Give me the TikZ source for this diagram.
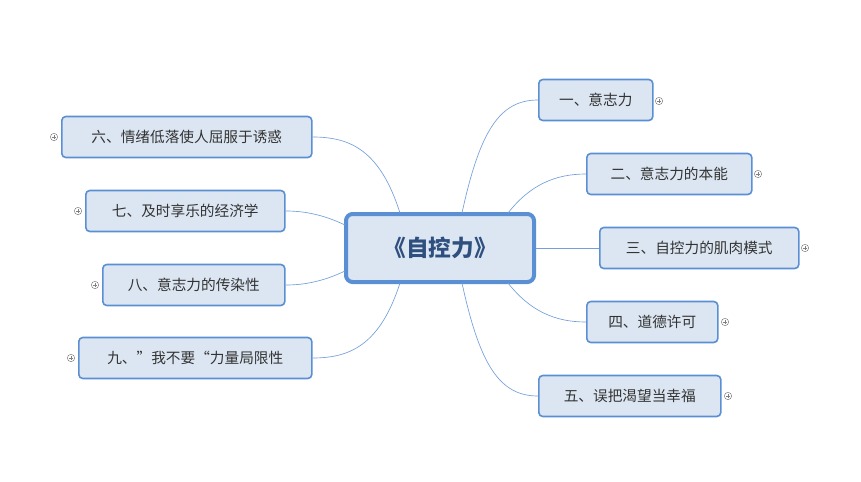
\documentclass[tikz,border=0pt]{standalone}
\usepackage{fontspec}
\setmainfont{Noto Sans CJK SC}
\definecolor{edge}{HTML}{5B8FD4}
\definecolor{boxfill}{HTML}{DCE6F2}
\definecolor{titlecol}{HTML}{2F4F7F}
\tikzset{%
	topic/.style={draw=edge,fill=boxfill,rounded corners=3pt,line width=1.2pt,font=\fontsize{11}{13}\selectfont,text=black!80,anchor=west,minimum height=30.75pt,inner xsep=8pt},
	link/.style={draw=edge!85,line width=0.5pt},
	fold/.style={circle,draw=gray,line width=0.4pt,inner sep=0pt,minimum size=5.5pt,path picture={\draw[gray,line width=0.4pt] ([xshift=-1.6pt]path picture bounding box.center)--([xshift=1.6pt]path picture bounding box.center) ([yshift=-1.6pt]path picture bounding box.center)--([yshift=1.6pt]path picture bounding box.center);}}
}
\begin{document}
\begin{tikzpicture}[x=0.75pt,y=-0.75pt]
	\useasboundingbox (0,0) rectangle (861,482);
	\node [draw=edge,fill=boxfill,rounded corners=5pt,line width=3pt,minimum width=141pt,minimum height=51pt,font=\bfseries\fontsize{17}{20}\selectfont,text=titlecol] (root) at (440,248) {《自控力》};
	% right side
	\node [topic,minimum width=85.5pt] (t1) at (538,100) {一、意志力};
	\node [topic,minimum width=123.75pt] (t2) at (586,174) {二、意志力的本能};
	\node [topic,minimum width=149.25pt] (t3) at (599,248) {三、自控力的肌肉模式};
	\node [topic,minimum width=98.25pt] (t4) at (586,322) {四、道德许可};
	\node [topic,minimum width=136.5pt] (t5) at (538,396) {五、误把渴望当幸福};
	% left side
	\node [topic,minimum width=187.5pt] (t6) at (61,137) {六、情绪低落使人屈服于诱惑};
	\node [topic,minimum width=149.25pt] (t7) at (85,211) {七、及时享乐的经济学};
	\node [topic,minimum width=136.5pt] (t8) at (102,285) {八、意志力的传染性};
	\node [topic,minimum width=174.75pt] (t9) at (78,358) {九、”我不要“力量局限性};
	% fold markers
	\foreach \n/\x/\y in {p1/659/101,p2/758/174,p3/805/248,p4/725/322,p5/728/396,p6/54/137,p7/78/211,p8/95/285,p9/71/358}
		\node [fold] (\n) at (\x,\y) {};
	% connectors
	\coordinate (r1) at (462,213);
	\coordinate (r2) at (508,213);
	\coordinate (r4) at (508,283);
	\coordinate (r5) at (462,283);
	\coordinate (l6) at (400,213);
	\coordinate (l7) at (345,225);
	\coordinate (l8) at (345,271);
	\coordinate (l9) at (400,283);
	\draw [link] (r1) .. controls (480,130) and (500,100) .. (t1.west);
	\draw [link] (r2) .. controls (530,185) and (555,174) .. (t2.west);
	\draw [link] (root.east) -- (t3.west);
	\draw [link] (r4) .. controls (530,311) and (555,322) .. (t4.west);
	\draw [link] (r5) .. controls (480,366) and (500,396) .. (t5.west);
	\draw [link] (l6) .. controls (380,150) and (350,137) .. (t6.east);
	\draw [link] (l7) .. controls (320,213) and (300,211) .. (t7.east);
	\draw [link] (l8) .. controls (320,283) and (300,285) .. (t8.east);
	\draw [link] (l9) .. controls (380,345) and (350,358) .. (t9.east);
\end{tikzpicture}
\end{document}
